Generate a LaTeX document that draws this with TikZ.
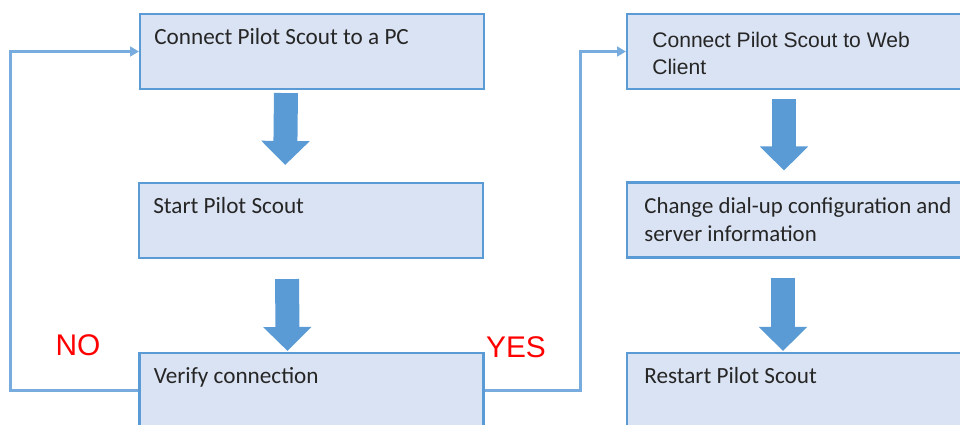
\documentclass[tikz,border=0pt]{standalone}
\usepackage{fontspec}
\setmainfont{Carlito}
\newfontfamily\arialfont{Liberation Sans}
\usetikzlibrary{arrows.meta,positioning}
\definecolor{boxfill}{RGB}{218,227,243}
\definecolor{boxline}{RGB}{91,155,213}
\definecolor{loopblue}{RGB}{120,172,222}

\begin{document}
\begin{tikzpicture}[
  x=0.02cm,y=-0.02cm,
  stepbox/.style={draw=boxline,line width=1.2pt,fill=boxfill,minimum width=6.88cm,minimum height=1.5cm},
  calibri/.style={inner sep=0pt,anchor=north west,align=left,text=black!85,font=\fontsize{13.2}{16}\selectfont},
  arial/.style={inner sep=0pt,anchor=north west,align=left,text=black!85,font=\arialfont\fontsize{12}{15.4}\selectfont},
  answer/.style={text=red,font=\arialfont\fontsize{17}{20}\selectfont},
  flow/.style={boxline,line width=0.48cm,-{Triangle[width=0.94cm,length=0.48cm]}},
  feedback/.style={loopblue,line width=1.2pt,-{Triangle[length=5pt,width=5.5pt]}}
]
\useasboundingbox (0,0) rectangle (960,424);
\clip (0,0) rectangle (960,424);

% Left column: set up the PC link
\node[stepbox] (connpc) at (312,51.5) {};
\node[stepbox] (start) at (311,220.5) {};
\node[stepbox] (verify) at (311.5,390.5) {};
\node[calibri,below right=0.31cm and 0.3cm of connpc.north west] (connpc-t) {Connect Pilot Scout to a PC};
\node[calibri,below right=0.31cm and 0.3cm of start.north west] (start-t) {Start Pilot Scout};
\node[calibri,below right=0.31cm and 0.3cm of verify.north west] (verify-t) {Verify connection};

\draw[flow,shorten <=0.06cm,shorten >=0.34cm] ([xshift=-0.52cm]connpc.south) -- ([xshift=-0.52cm]start.north);
\draw[flow,shorten <=0.4cm,shorten >=0.02cm] ([xshift=-0.48cm]start.south) -- ([xshift=-0.48cm]verify.north);

% Right column: web client settings
\node[stepbox] (connweb) at (799,51.5) {};
\node[stepbox] (dialup) at (799,220) {};
\node[stepbox] (restart) at (799,390.5) {};
\node[arial,below right=0.37cm and 0.52cm of connweb.north west] (connweb-t) {Connect Pilot Scout to Web\\Client};
\node[calibri,font=\fontsize{13}{16}\selectfont,below right=0.31cm and 0.36cm of dialup.north west] (dialup-t) {Change dial-up configuration and\\server information};
\node[calibri,below right=0.31cm and 0.36cm of restart.north west] (restart-t) {Restart Pilot Scout};

\draw[flow,shorten <=0.18cm,shorten >=0.22cm] ([xshift=-0.3cm]connweb.south) -- ([xshift=-0.3cm]dialup.north);
\draw[flow,shorten <=0.38cm,shorten >=0.02cm] ([xshift=-0.32cm]dialup.south) -- ([xshift=-0.32cm]restart.north);

% Outcome of the check
\draw[feedback] (verify.west) -- ++(-128,0) |- (connpc.west);
\draw[feedback] (verify.east) -- ++(96,0) |- (connweb.west);
\node[answer] (no) at (78,345) {NO};
\node[answer] (yes) at (516,347) {YES};
\end{tikzpicture}
\end{document}
